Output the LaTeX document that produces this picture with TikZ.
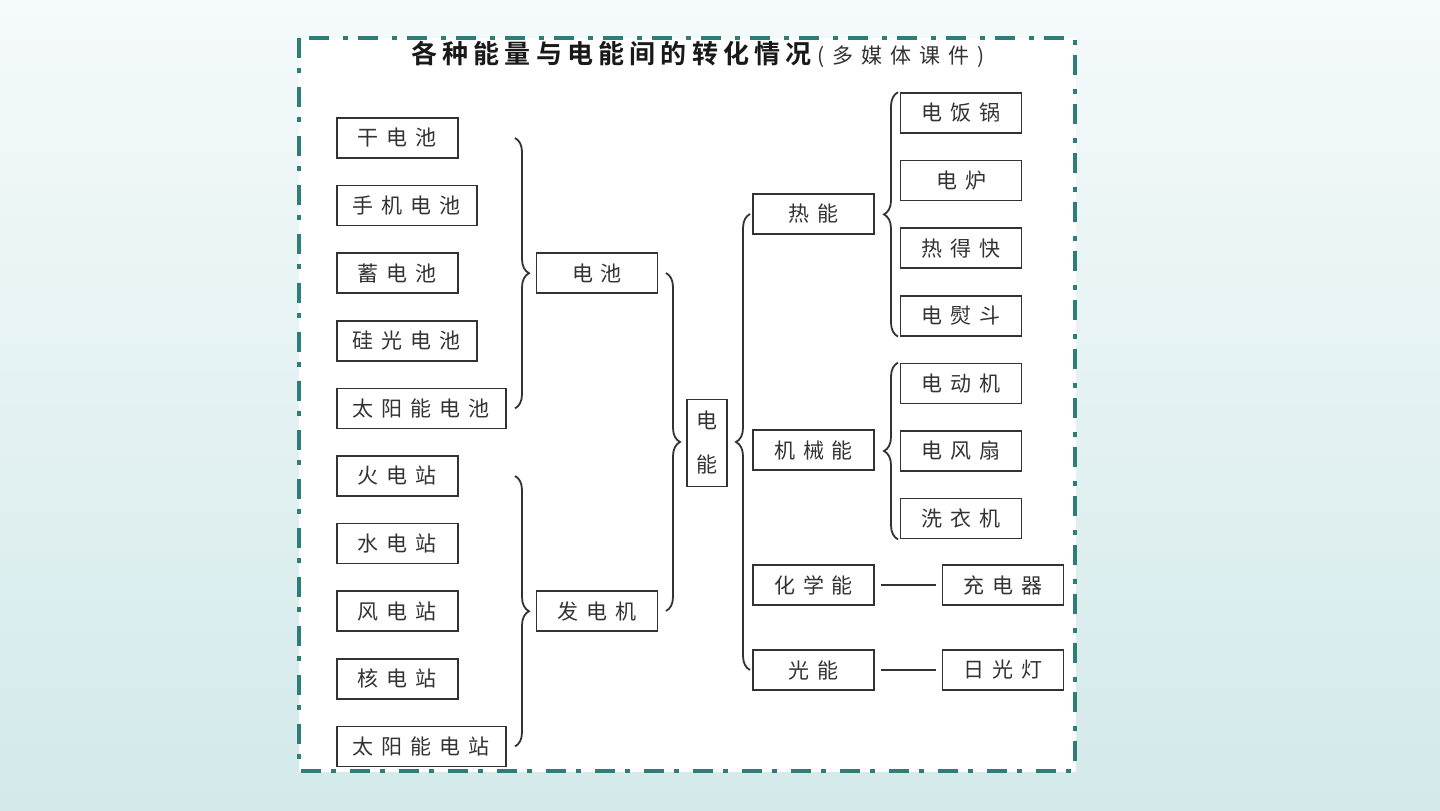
\documentclass[tikz,border=0pt]{standalone}
\usepackage{fontspec}
\setmainfont{Noto Sans CJK SC}[BoldFont={Noto Sans CJK SC Bold}]
\usepackage{xcolor}
\definecolor{bgtop}{RGB}{245,250,251}
\definecolor{bgbot}{RGB}{211,233,234}
\definecolor{frameteal}{RGB}{46,125,120}
\definecolor{inkgray}{RGB}{51,51,51}
\usepackage{tikz}
\usetikzlibrary{positioning,decorations.pathreplacing}
\newcommand{\spaced}[2][.38em]{\def\spacedgap{#1}\spacedaux#2\relax}
\def\spacedaux#1#2{#1\ifx\relax#2\else\kern\spacedgap\expandafter\spacedaux\expandafter#2\fi}

\begin{document}
\begin{tikzpicture}[
  x=0.5pt, y=-0.5pt,
  box/.style={draw=inkgray, line width=0.8pt, fill=white, text=inkgray,
    minimum height=20pt, minimum width=60.5pt, inner xsep=8pt, inner ysep=2pt,
    font=\fontsize{10.5pt}{12pt}\selectfont},
  brc/.style={decorate, decoration={brace, amplitude=7pt}, draw=inkgray, line width=0.9pt},
  link/.style={draw=inkgray, line width=0.8pt, shorten <=3pt, shorten >=3pt},
  framed/.style={draw=frameteal, line width=2pt, dash pattern=on 10pt off 5pt on 2.5pt off 7pt},
  node distance=13pt]
  % page and frame
  \useasboundingbox (0,0) rectangle (1440,810);
  \shade[top color=bgtop, bottom color=bgbot] (0,0) rectangle (1440,810);
  \fill[white] (299,38) rectangle (1076,772);
  \draw[framed] (298.5,37.5) rectangle (1075,770.5);
  \node[text=black!90, inner sep=0pt] (title) at (698,54)
    {\fontsize{13pt}{15pt}\selectfont\bfseries\spaced[.2em]{各种能量与电能间的转化情况}%
     \fontsize{10.5pt}{12pt}\selectfont\mdseries\color{inkgray}\kern3pt(\kern4pt\spaced{多媒体课件}\kern4pt)};
  % sources
  \node[box, anchor=west] (dry) at (336,138) {\spaced{干电池}};
  \node[box, below=of dry.south west, anchor=north west] (phone) {\spaced{手机电池}};
  \node[box, below=of phone.south west, anchor=north west] (lead) {\spaced{蓄电池}};
  \node[box, below=of lead.south west, anchor=north west] (silicon) {\spaced{硅光电池}};
  \node[box, below=of silicon.south west, anchor=north west] (solarcell) {\spaced{太阳能电池}};
  \node[box, below=of solarcell.south west, anchor=north west] (thermal) {\spaced{火电站}};
  \node[box, below=of thermal.south west, anchor=north west] (hydro) {\spaced{水电站}};
  \node[box, below=of hydro.south west, anchor=north west] (wind) {\spaced{风电站}};
  \node[box, below=of wind.south west, anchor=north west] (nuclear) {\spaced{核电站}};
  \node[box, below=of nuclear.south west, anchor=north west] (solarplant) {\spaced{太阳能电站}};
  \node[box] (battery) at (597,273) {\spaced{电池}};
  \node[box] (generator) at (597,611) {\spaced{发电机}};
  \node[box, minimum width=20pt, minimum height=43.5pt, inner xsep=3pt, align=center,
    font=\fontsize{10.5pt}{22pt}\selectfont] (elec) at (707,443) {电\\能};
  % forms of energy
  \node[box] (heat) at (813.5,214) {\spaced{热能}};
  \node[box] (mech) at (813.5,450) {\spaced{机械能}};
  \node[box] (chem) at (813.5,585) {\spaced{化学能}};
  \node[box] (light) at (813.5,670) {\spaced{光能}};
  % appliances
  \node[box] (cooker) at (961,113) {\spaced{电饭锅}};
  \node[box, below=of cooker] (stove) {\spaced{电炉}};
  \node[box, below=of stove] (heater) {\spaced{热得快}};
  \node[box, below=of heater] (iron) {\spaced{电熨斗}};
  \node[box, below=of iron] (motor) {\spaced{电动机}};
  \node[box, below=of motor] (fan) {\spaced{电风扇}};
  \node[box, below=of fan] (washer) {\spaced{洗衣机}};
  \node[box, right=33.5pt of chem] (charger) {\spaced{充电器}};
  \node[box, right=33.5pt of light] (lamp) {\spaced{日光灯}};
  % braces
  \coordinate (bxa) at (515,0);
  \coordinate (bxb) at (666,0);
  \coordinate (bxc) at (750,0);
  \coordinate (bxd) at (898,0);
  \draw[brc] (dry -| bxa) -- (solarcell -| bxa);
  \draw[brc] (thermal -| bxa) -- (solarplant -| bxa);
  \draw[brc] (battery -| bxb) -- (generator -| bxb);
  \draw[brc] (light -| bxc) -- (heat -| bxc);
  \draw[brc] (iron.south -| bxd) -- (cooker.north -| bxd);
  \draw[brc] (washer.south -| bxd) -- (motor.north -| bxd);
  \draw[link] (chem) -- (charger);
  \draw[link] (light) -- (lamp);
\end{tikzpicture}
\end{document}
